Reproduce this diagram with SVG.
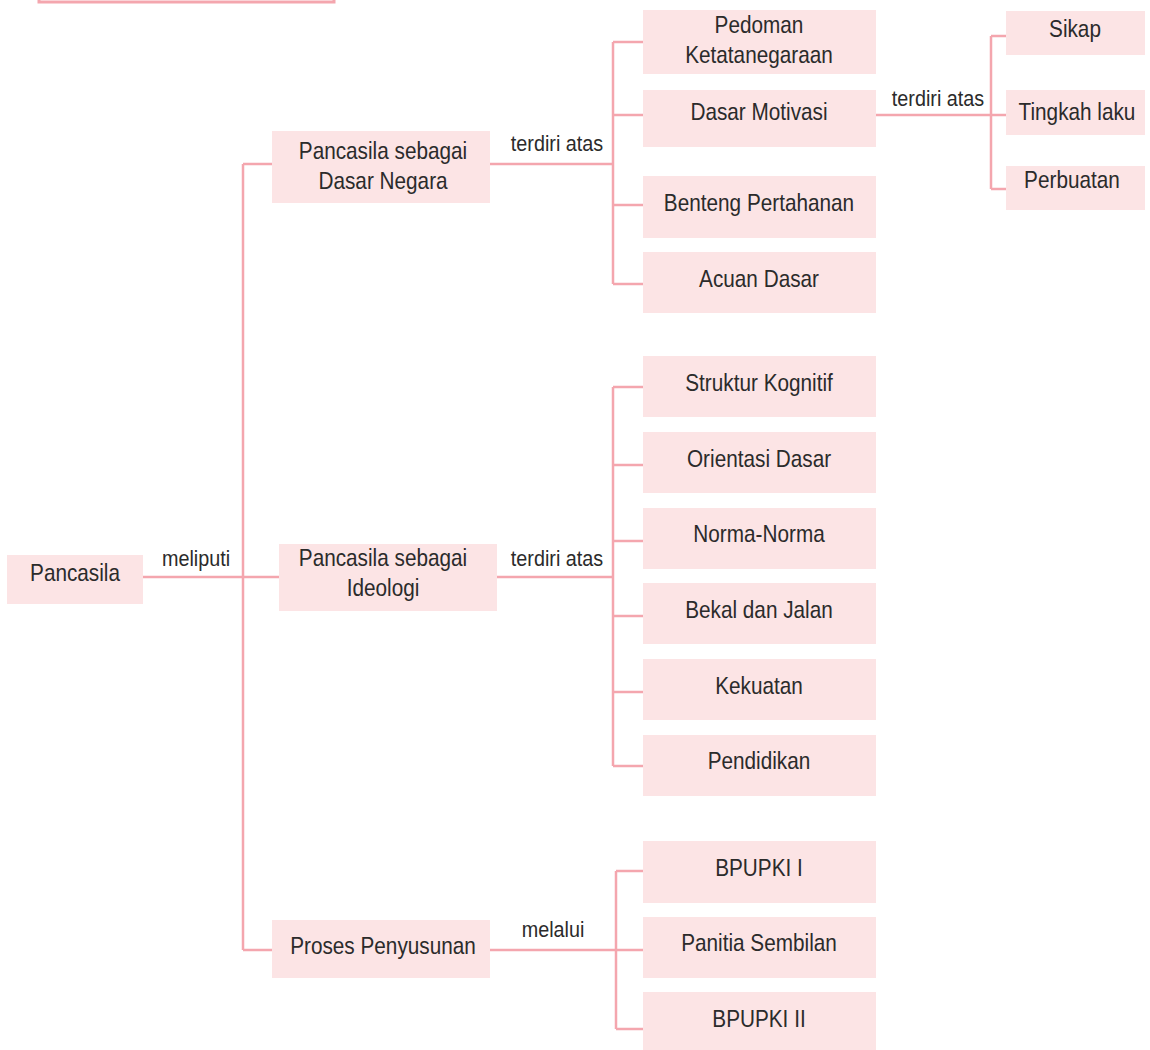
<svg xmlns="http://www.w3.org/2000/svg" width="1150" height="1050" viewBox="0 0 1150 1050">
<style>
.b{fill:#fce4e5}
.t,.l{font-family:"Liberation Sans",Arial,sans-serif;fill:#2b2b2b;text-anchor:middle;transform-box:fill-box;transform-origin:center}
.t{font-size:24px;transform:scaleX(0.865)}
.l{font-size:22px;transform:scaleX(0.9)}
.c{fill:none;stroke:#f4a6ae;stroke-width:2.5}
</style>
<rect width="1150" height="1050" fill="#ffffff"/>
<rect x="39" y="-40" width="295" height="42" fill="none" stroke="#f4a6ae" stroke-width="3"/>
<g id="connectors">
<path class="c" d="M143 577H243M243 164V950M243 164H272M243 577H279M243 950H272"/>
<path class="c" d="M490 164H613M613 42V284M613 42H643M613 115H643M613 205H643M613 284H643"/>
<path class="c" d="M876 115H991M991 36V189M991 36H1006M991 115H1006M991 189H1006"/>
<path class="c" d="M497 577H613M613 387V766M613 387H643M613 465H643M613 541H643M613 616H643M613 692H643M613 766H643"/>
<path class="c" d="M490 950H616M616 871V1029M616 871H643M616 950H643M616 1029H643"/>
<g id="labels">
<text class="l" x="196" y="566">meliputi</text>
<text class="l" x="557" y="151">terdiri atas</text>
<text class="l" x="938" y="106">terdiri atas</text>
<text class="l" x="557" y="566">terdiri atas</text>
<text class="l" x="553" y="937">melalui</text>
</g>
</g>
<g id="n-pancasila"><rect class="b" x="7" y="555" width="136" height="49"/><text class="t" x="75" y="581">Pancasila</text></g>
<g id="n-dasar-negara"><rect class="b" x="272" y="131" width="218" height="72"/><text class="t" x="383" y="159">Pancasila sebagai</text><text class="t" x="383" y="189">Dasar Negara</text></g>
<g id="n-ideologi"><rect class="b" x="279" y="544" width="218" height="67"/><text class="t" x="383" y="566">Pancasila sebagai</text><text class="t" x="383" y="596">Ideologi</text></g>
<g id="n-proses"><rect class="b" x="272" y="920" width="218" height="58"/><text class="t" x="383" y="954">Proses Penyusunan</text></g>
<g id="n-pedoman"><rect class="b" x="643" y="10" width="233" height="64"/><text class="t" x="759" y="33">Pedoman</text><text class="t" x="759" y="63">Ketatanegaraan</text></g>
<g id="n-motivasi"><rect class="b" x="643" y="90" width="233" height="57"/><text class="t" x="759" y="120">Dasar Motivasi</text></g>
<g id="n-benteng"><rect class="b" x="643" y="176" width="233" height="62"/><text class="t" x="759" y="211">Benteng Pertahanan</text></g>
<g id="n-acuan"><rect class="b" x="643" y="252" width="233" height="61"/><text class="t" x="759" y="287">Acuan Dasar</text></g>
<g id="n-sikap"><rect class="b" x="1006" y="11" width="139" height="44"/><text class="t" x="1075" y="37">Sikap</text></g>
<g id="n-tingkah"><rect class="b" x="1006" y="90" width="139" height="45"/><text class="t" x="1077" y="120">Tingkah laku</text></g>
<g id="n-perbuatan"><rect class="b" x="1006" y="166" width="139" height="44"/><text class="t" x="1072" y="188">Perbuatan</text></g>
<g id="n-struktur"><rect class="b" x="643" y="356" width="233" height="61"/><text class="t" x="759" y="391">Struktur Kognitif</text></g>
<g id="n-orientasi"><rect class="b" x="643" y="432" width="233" height="61"/><text class="t" x="759" y="467">Orientasi Dasar</text></g>
<g id="n-norma"><rect class="b" x="643" y="508" width="233" height="61"/><text class="t" x="759" y="542">Norma-Norma</text></g>
<g id="n-bekal"><rect class="b" x="643" y="583" width="233" height="61"/><text class="t" x="759" y="618">Bekal dan Jalan</text></g>
<g id="n-kekuatan"><rect class="b" x="643" y="659" width="233" height="61"/><text class="t" x="759" y="694">Kekuatan</text></g>
<g id="n-pendidikan"><rect class="b" x="643" y="735" width="233" height="61"/><text class="t" x="759" y="769">Pendidikan</text></g>
<g id="n-bpupki1"><rect class="b" x="643" y="841" width="233" height="62"/><text class="t" x="759" y="876">BPUPKI I</text></g>
<g id="n-panitia"><rect class="b" x="643" y="917" width="233" height="61"/><text class="t" x="759" y="951">Panitia Sembilan</text></g>
<g id="n-bpupki2"><rect class="b" x="643" y="992" width="233" height="58"/><text class="t" x="759" y="1027">BPUPKI II</text></g>
</svg>
